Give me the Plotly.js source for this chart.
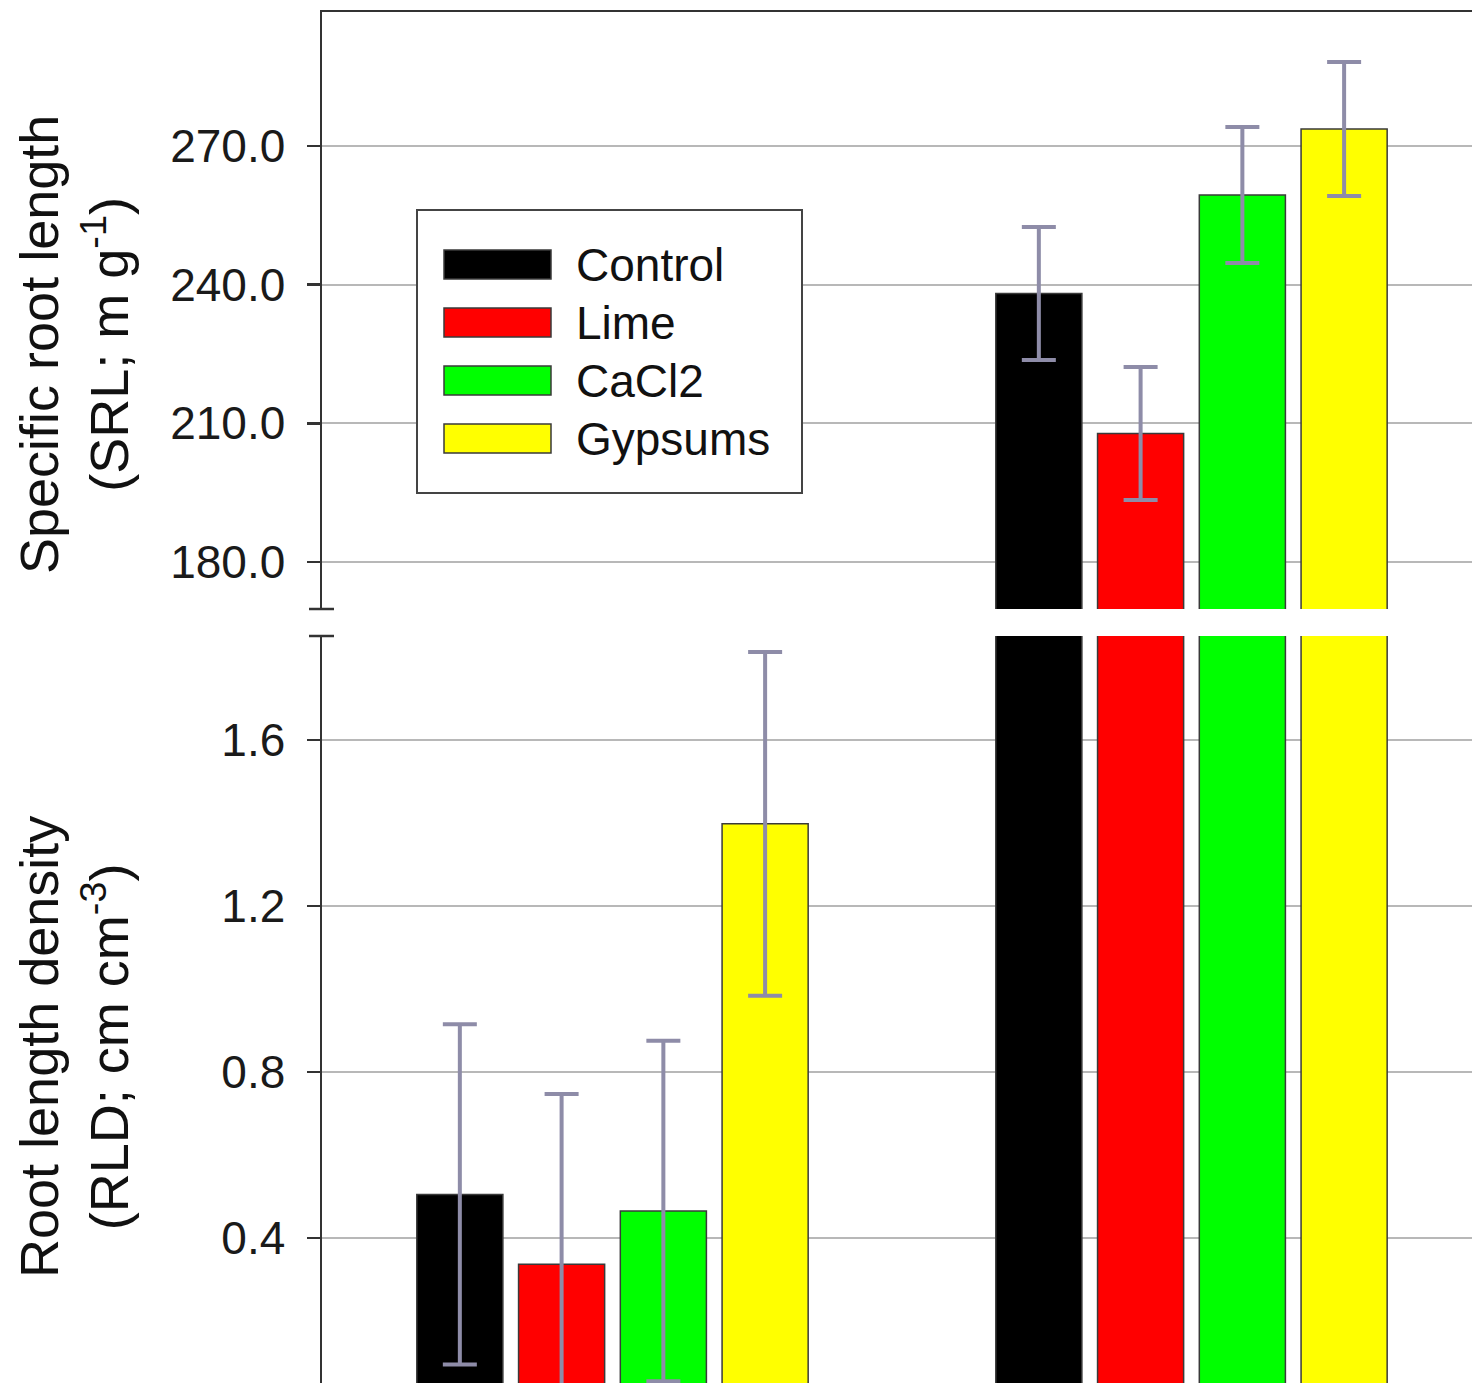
<!DOCTYPE html>
<html>
<head>
<meta charset="utf-8">
<script src="https://cdn.plot.ly/plotly-3.0.1.min.js"></script>
<style>html,body{margin:0;padding:0;background:#fff;}#chart{width:1472px;height:1383px;}</style>
</head>
<body>
<div id="chart"></div>
<script>
// ---- data ----
const groups = ['RLD', 'SRL'];
const seriesNames = ['Control', 'Lime', 'CaCl2', 'Gypsums'];
const seriesColors = ['#000000', '#ff0000', '#00ff00', '#ffff00'];
const rldMean = [0.505, 0.337, 0.465, 1.398];   // root length density, cm cm-3
const rldErr  = [0.41, 0.41, 0.41, 0.414];
const srlMean = [238.1, 207.8, 259.4, 273.7];   // specific root length, m g-1
const srlErr  = [14.4, 14.4, 14.7, 14.5];
const yTitleTop = 'Specific root length<br>(SRL; m g<sup>-1</sup>)';
const yTitleBottom = 'Root length density<br>(RLD; cm cm<sup>-3</sup>)';

// ---- layout helpers (pixel -> paper) ----
const W = 1472, H = 1383, ML = 322, MT = 12;
const PW = W - ML, PH = H - MT;
const px = v => (v - ML) / PW;
const py = v => (H - v) / PH;

const FONT = '"Liberation Sans", Arial, sans-serif';
const errColor = '#8e8ca8';
const edge = '#3a3a3a';

const traces = [];
seriesNames.forEach((name, i) => {
  const ys = [rldMean[i], srlMean[i]];
  const es = [rldErr[i], srlErr[i]];
  [['x', 'y'], ['x2', 'y2']].forEach(([xa, ya]) => {
    traces.push({
      type: 'bar', name: name, x: groups, y: ys,
      xaxis: xa, yaxis: ya, showlegend: false,
      marker: {color: seriesColors[i], line: {color: edge, width: 1.5}},
      error_y: {type: 'data', array: es, visible: true, color: errColor, thickness: 4, width: 17}
    });
  });
});

const axisCommon = {
  showline: true, linecolor: '#333', linewidth: 2.5,
  ticks: 'outside', ticklen: 13, tickwidth: 2.5, tickcolor: '#333',
  showgrid: true, gridcolor: '#b8b8b8', gridwidth: 2, zeroline: false,
  tickfont: {family: FONT, size: 46, color: '#1a1a1a'},
  tickformat: '.1f', ticklabelstandoff: 12, automargin: false
};

// custom legend built from the series arrays
const shapes = [];
const annotations = [];
shapes.push({type: 'rect', xref: 'paper', yref: 'paper', x0: px(417), x1: px(802), y0: py(493), y1: py(210),
  fillcolor: '#ffffff', line: {color: '#444', width: 2}, layer: 'above'});
seriesNames.forEach((name, i) => {
  const top = 250 + 58 * i;
  shapes.push({type: 'rect', xref: 'paper', yref: 'paper', x0: px(444), x1: px(551), y0: py(top + 29), y1: py(top),
    fillcolor: seriesColors[i], line: {color: edge, width: 1.5}, layer: 'above'});
  annotations.push({xref: 'paper', yref: 'paper', x: px(574), y: py(top + 15), xanchor: 'left', yanchor: 'middle',
    text: name, showarrow: false, font: {family: FONT, size: 46, color: '#111'}});
});
// axis-break marks
[609, 636].forEach(v => {
  shapes.push({type: 'line', xref: 'paper', yref: 'paper', x0: px(309), x1: px(334), y0: py(v), y1: py(v),
    line: {color: '#333', width: 2.5}});
});
// axis titles
annotations.push({xref: 'paper', yref: 'paper', x: px(74), y: py(345), xanchor: 'center', yanchor: 'middle',
  textangle: -90, text: yTitleTop, showarrow: false, font: {family: FONT, size: 54, color: '#111'}});
annotations.push({xref: 'paper', yref: 'paper', x: px(74), y: py(1047), xanchor: 'center', yanchor: 'middle',
  textangle: -90, text: yTitleBottom, showarrow: false, font: {family: FONT, size: 54, color: '#111'}});

const layout = {
  width: W, height: H,
  margin: {l: ML, r: 0, t: MT, b: 0, pad: 0},
  paper_bgcolor: '#ffffff', plot_bgcolor: '#ffffff',
  barmode: 'group', bargap: 0.297, bargroupgap: 0.154,
  showlegend: false,
  font: {family: FONT},
  xaxis: {domain: [0, 1], anchor: 'y', range: [-0.5017, 1.4845], type: 'category',
    showticklabels: false, ticks: '', showline: false, showgrid: false, zeroline: false, automargin: false},
  xaxis2: {domain: [0, 1], anchor: 'y2', matches: 'x', side: 'top', type: 'category',
    showticklabels: false, ticks: '', showline: true, linecolor: '#333', linewidth: 2.5,
    showgrid: false, zeroline: false, automargin: false},
  yaxis: Object.assign({}, axisCommon, {domain: [0, py(636)], anchor: 'x', range: [0.0506, 1.8506], tick0: 0, dtick: 0.4}),
  yaxis2: Object.assign({}, axisCommon, {domain: [py(609), 1], anchor: 'x2', range: [169.83, 299.0], tick0: 0, dtick: 30}),
  shapes: shapes,
  annotations: annotations
};

Plotly.newPlot('chart', traces, layout, {displayModeBar: false, staticPlot: true});
</script>
</body>
</html>
